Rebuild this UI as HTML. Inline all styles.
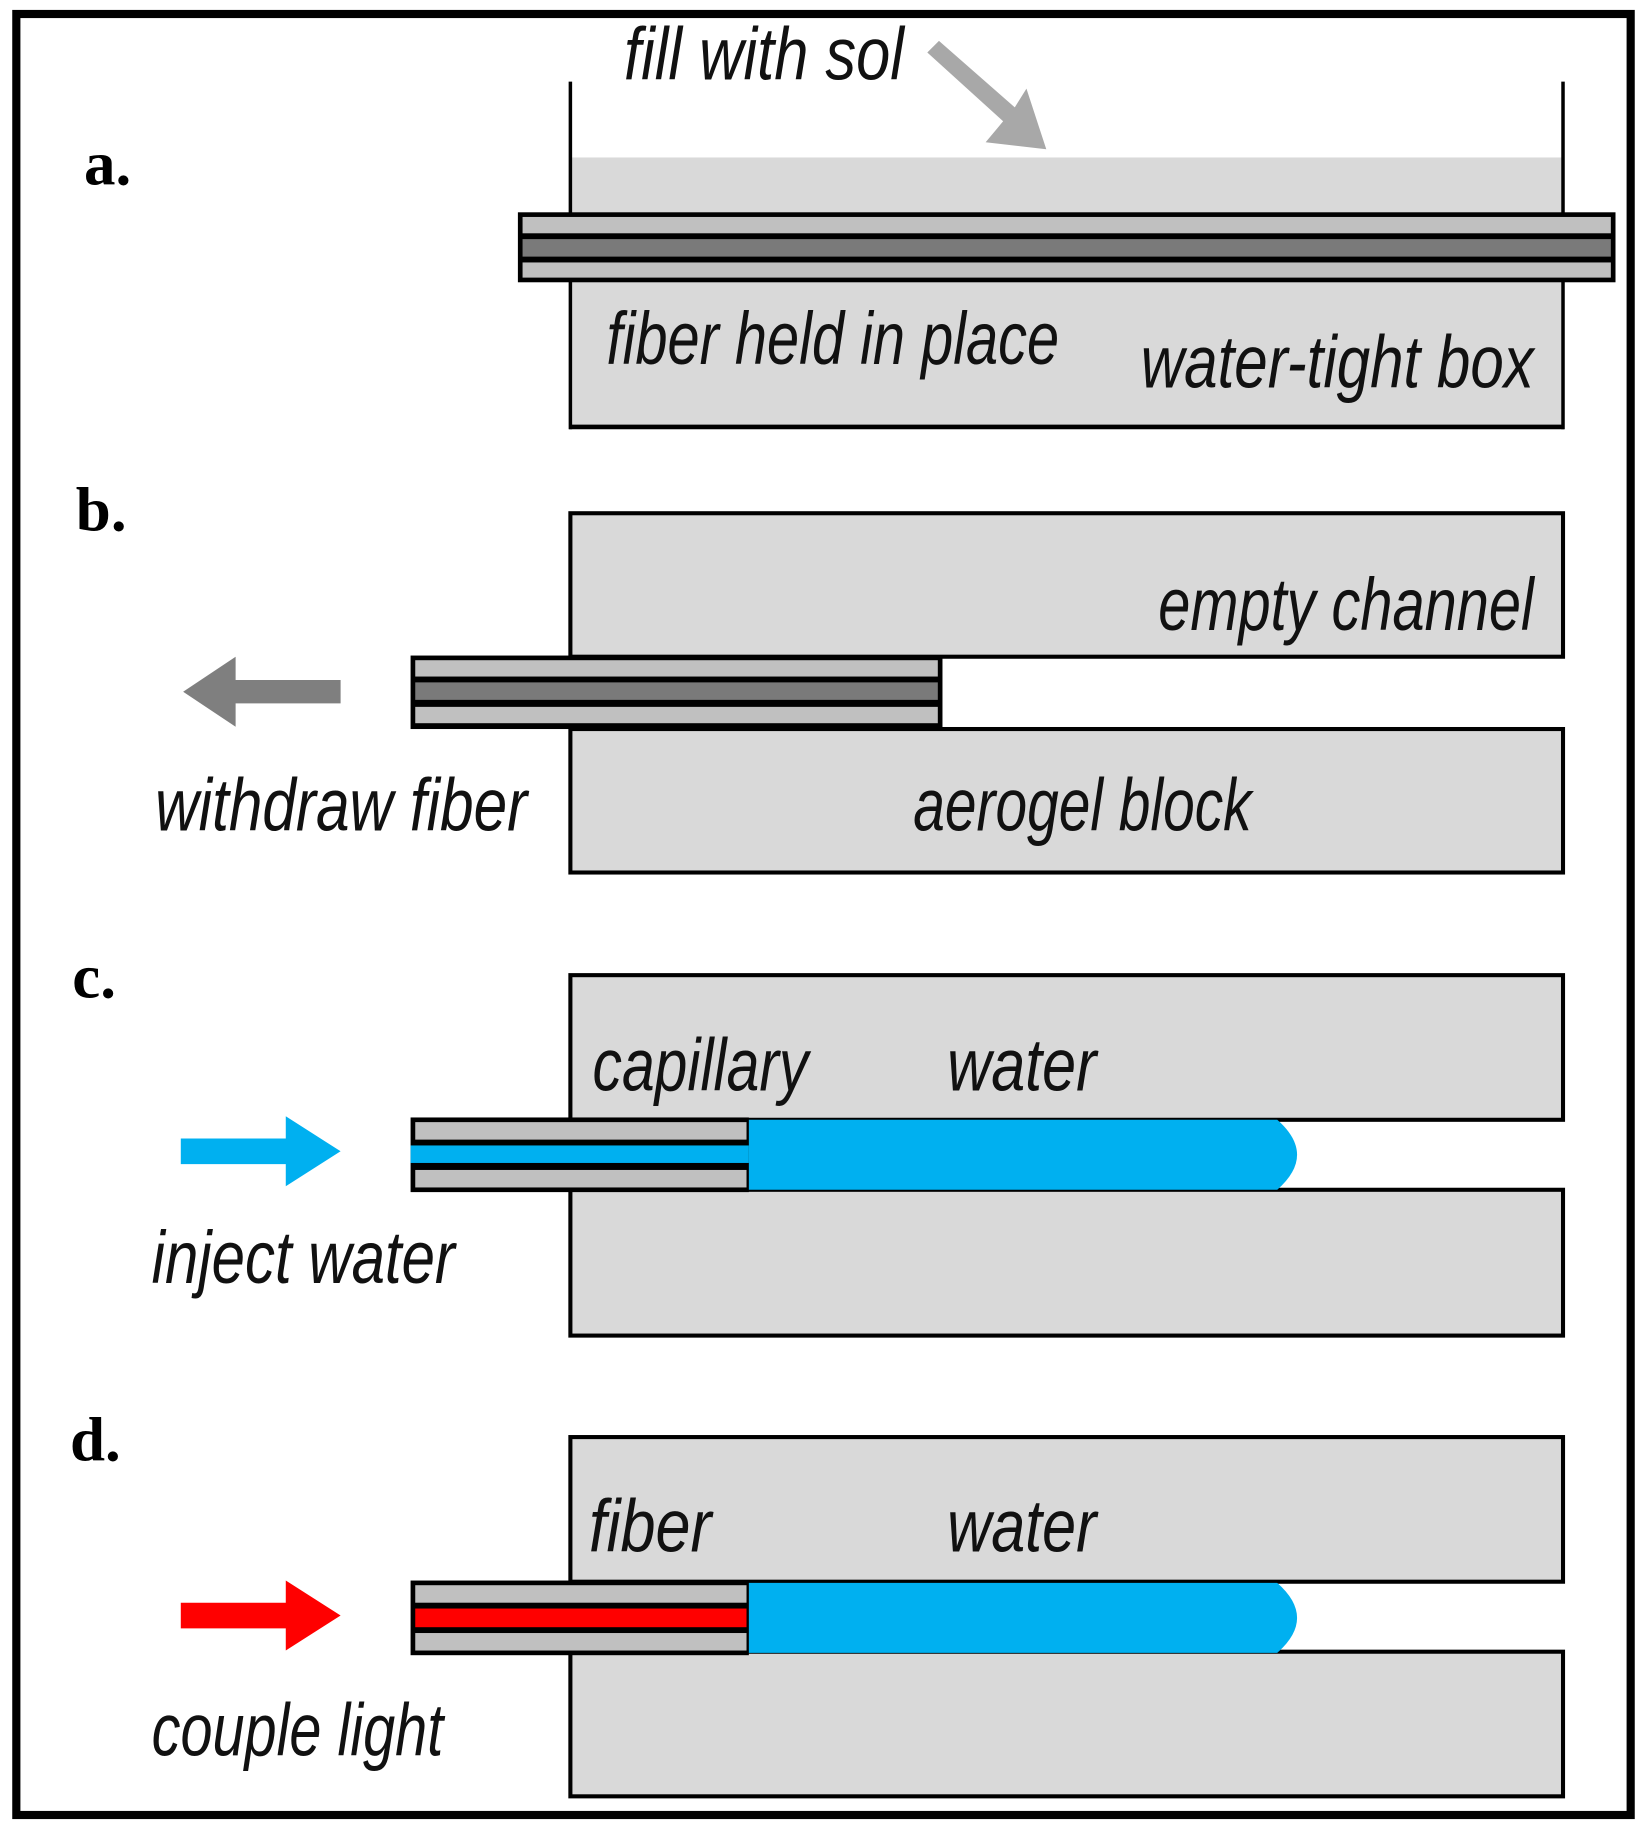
<!DOCTYPE html>
<html><head><meta charset="utf-8"><style>
html,body{margin:0;padding:0;background:#fff;}
svg{display:block;}
.t{font-family:"Liberation Sans Narrow","Liberation Sans",sans-serif;font-style:italic;font-size:64px;fill:#111;}
.l{font-family:"Liberation Serif",serif;font-weight:bold;font-size:54px;fill:#000;}
</style></head><body>
<svg width="1647" height="1829" viewBox="0 0 1412 1568" preserveAspectRatio="none" xmlns="http://www.w3.org/2000/svg">
<rect x="14" y="12" width="1384" height="1544" fill="#fff" stroke="#000" stroke-width="7"/>

<!-- panel a -->
<rect x="489" y="135" width="851" height="232" fill="#d9d9d9"/>
<line x1="489" y1="70" x2="489" y2="368" stroke="#000" stroke-width="3"/>
<line x1="1340" y1="70" x2="1340" y2="368" stroke="#000" stroke-width="3"/>
<line x1="488" y1="366" x2="1341" y2="366" stroke="#000" stroke-width="4"/>
<g>
<rect x="444" y="182" width="941" height="60" fill="#000"/>
<rect x="448" y="186" width="933" height="14" fill="#c0c0c0"/>
<rect x="448" y="205" width="933" height="15" fill="#7a7a7a"/>
<rect x="448" y="225" width="933" height="13" fill="#c0c0c0"/>
</g>
<text class="t" x="535" y="68" textLength="240" lengthAdjust="spacingAndGlyphs">fill with sol</text>
<polygon points="795,45 805,35 870,92 880,76 897,128 845,122 860,104" fill="#a8a8a8"/>
<text class="t" x="520" y="312" textLength="388" lengthAdjust="spacingAndGlyphs">fiber held in place</text>
<text class="t" x="978" y="332" textLength="337" lengthAdjust="spacingAndGlyphs">water-tight box</text>
<text class="l" x="72" y="158">a.</text>

<!-- panel b -->
<rect x="489" y="440" width="851" height="123" fill="#d9d9d9" stroke="#000" stroke-width="3.5"/>
<rect x="489" y="625" width="851" height="123" fill="#d9d9d9" stroke="#000" stroke-width="3.5"/>
<rect x="352" y="562" width="456" height="63" fill="#000"/>
<rect x="356" y="566" width="448" height="14" fill="#c0c0c0"/>
<rect x="356" y="585" width="448" height="15" fill="#7a7a7a"/>
<rect x="356" y="606" width="448" height="14" fill="#c0c0c0"/>
<polygon points="157,593 202,563 202,583 292,583 292,603 202,603 202,623" fill="#7f7f7f"/>
<text class="t" x="993" y="540" textLength="322" lengthAdjust="spacingAndGlyphs">empty channel</text>
<text class="t" x="133" y="712" textLength="319" lengthAdjust="spacingAndGlyphs">withdraw fiber</text>
<text class="t" x="783" y="712" textLength="290" lengthAdjust="spacingAndGlyphs">aerogel block</text>
<text class="l" x="65" y="455">b.</text>

<!-- panel c -->
<rect x="489" y="836" width="851" height="124" fill="#d9d9d9" stroke="#000" stroke-width="3.5"/>
<rect x="489" y="1020" width="851" height="125" fill="#d9d9d9" stroke="#000" stroke-width="3.5"/>
<path d="M640,960 L1095,960 Q1112,975 1112,990 Q1112,1005 1095,1020 L640,1020 Z" fill="#00b0f0"/>
<rect x="352" y="958" width="290" height="64" fill="#000"/>
<rect x="356" y="962" width="284" height="15" fill="#c0c0c0"/>
<rect x="352" y="982" width="290" height="15" fill="#00b0f0"/>
<rect x="356" y="1003" width="284" height="15" fill="#c0c0c0"/>
<polygon points="155,976 245,976 245,957 292,987 245,1017 245,998 155,998" fill="#00b0f0"/>
<text class="t" x="508" y="935" textLength="185" lengthAdjust="spacingAndGlyphs">capillary</text>
<text class="t" x="812" y="935" textLength="128" lengthAdjust="spacingAndGlyphs">water</text>
<text class="t" x="130" y="1100" textLength="260" lengthAdjust="spacingAndGlyphs">inject water</text>
<text class="l" x="62" y="855">c.</text>

<!-- panel d -->
<rect x="489" y="1232" width="851" height="124" fill="#d9d9d9" stroke="#000" stroke-width="3.5"/>
<rect x="489" y="1416" width="851" height="124" fill="#d9d9d9" stroke="#000" stroke-width="3.5"/>
<path d="M640,1357 L1095,1357 Q1112,1372 1112,1387 Q1112,1402 1095,1417 L640,1417 Z" fill="#00b0f0"/>
<rect x="352" y="1355" width="290" height="64" fill="#000"/>
<rect x="356" y="1359" width="284" height="15" fill="#c0c0c0"/>
<rect x="356" y="1379" width="284" height="16" fill="#ff0000"/>
<rect x="356" y="1400" width="284" height="15" fill="#c0c0c0"/>
<polygon points="155,1374 245,1374 245,1355 292,1385 245,1415 245,1396 155,1396" fill="#ff0000"/>
<text class="t" x="505" y="1330" textLength="105" lengthAdjust="spacingAndGlyphs">fiber</text>
<text class="t" x="812" y="1330" textLength="128" lengthAdjust="spacingAndGlyphs">water</text>
<text class="t" x="130" y="1505" textLength="250" lengthAdjust="spacingAndGlyphs">couple light</text>
<text class="l" x="60" y="1252">d.</text>
</svg>
</body></html>
